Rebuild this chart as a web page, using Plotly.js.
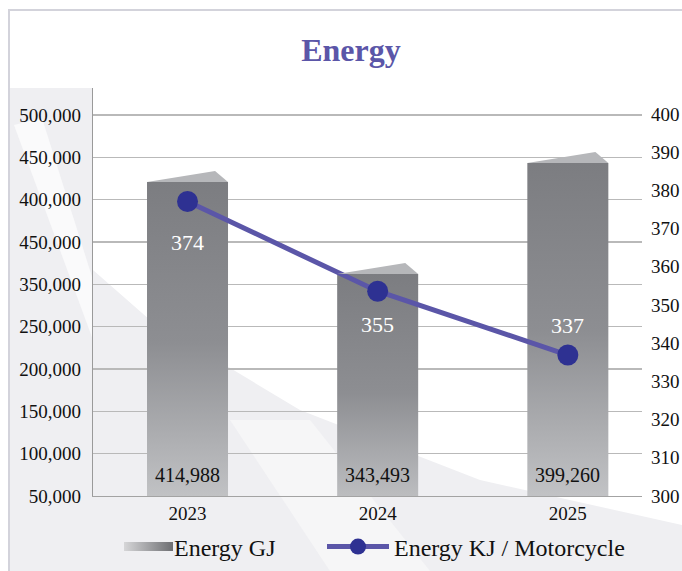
<!DOCTYPE html>
<html>
<head>
<meta charset="utf-8">
<script src="https://cdn.plot.ly/plotly-3.0.1.min.js"></script>
<style>
  html, body { margin: 0; padding: 0; background: #ffffff; }
  #chart { width: 682px; height: 571px; }
</style>
</head>
<body>
<div id="chart"></div>
<script>
// ---- data ----
const categories = ['2023', '2024', '2025'];
// bar heights as drawn against the left axis
const energyGJ = [420900, 312200, 443300];
// printed bar labels
const energyGJLabels = ['414,988', '343,493', '399,260'];
// line values as drawn against the right axis
const energyKJ = [377.1, 353.6, 336.9];
// printed line labels
const energyKJLabels = ['374', '355', '337'];
// left axis tick labels as printed
const leftTickVals = [50000, 100000, 150000, 200000, 250000, 300000, 350000, 400000, 450000, 500000];
const leftTickText = ['50,000', '100,000', '150,000', '200,000', '250,000', '350,000', '450,000', '400,000', '450,000', '500,000'];
const rightTickVals = [300, 310, 320, 330, 340, 350, 360, 370, 380, 390, 400];

// ---- style constants ----
const FONT = 'Liberation Serif, DejaVu Serif, serif';
const PURPLE = '#5b56a8';
const NAVY = '#2e3192';
const BAR_W = 0.426;
const CAP_RISE = 13000;
const CAP_APEX = 0.84;
const lineLabelShift = [-41, -33, 30];

const M = { l: 93, r: 40, t: 88, b: 75 };
const PW = 682 - M.l - M.r, PH = 571 - M.t - M.b;
const px = (x) => (x - M.l) / PW;
const py = (y) => (571 - M.b - y) / PH;
function poly(pts) {
  return 'M' + pts.map(p => px(p[0]).toFixed(4) + ',' + py(p[1]).toFixed(4)).join('L') + 'Z';
}

const shapes = [];
// background decoration
shapes.push({ type: 'path', xref: 'paper', yref: 'paper', layer: 'below', line: { width: 0 }, fillcolor: '#efeff2',
  path: poly([[10, 88], [10, 571], [682, 571], [682, 525], [480, 480], [300, 410], [150, 320], [93, 270], [93, 88]]) });
shapes.push({ type: 'path', xref: 'paper', yref: 'paper', layer: 'below', line: { width: 0 }, fillcolor: '#fafafb',
  path: poly([[14, 125], [93, 340], [93, 280], [42, 118]]) });
shapes.push({ type: 'path', xref: 'paper', yref: 'paper', layer: 'below', line: { width: 0 }, fillcolor: '#f6f6f7',
  path: poly([[230, 420], [330, 571], [430, 571], [310, 420]]) });
// frame
shapes.push({ type: 'path', xref: 'paper', yref: 'paper', layer: 'below', fillcolor: 'rgba(0,0,0,0)',
  line: { color: '#d3d3db', width: 2 }, path: 'M' + px(9) + ',' + py(571) + 'L' + px(9) + ',' + py(10) + 'L' + px(682) + ',' + py(10) });

// bar caps from data
categories.forEach((c, i) => {
  const x0 = i - BAR_W / 2, x1 = i + BAR_W / 2, xa = x0 + CAP_APEX * BAR_W;
  const v = energyGJ[i];
  shapes.push({ type: 'path', xref: 'x', yref: 'y', layer: 'above', line: { width: 0 }, fillcolor: '#b6b7ba',
    path: `M${x0},${v}L${xa},${v + CAP_RISE}L${x1},${v}Z` });
});

const annotations = [];
categories.forEach((c, i) => {
  annotations.push({ x: i, y: energyKJ[i], xref: 'x', yref: 'y2', text: energyKJLabels[i], showarrow: false,
    yshift: lineLabelShift[i], yanchor: 'middle', xanchor: 'center', font: { family: FONT, size: 22, color: '#ffffff' } });
  annotations.push({ x: i, y: leftTickVals[0], xref: 'x', yref: 'y', text: energyGJLabels[i], showarrow: false,
    yshift: 21, yanchor: 'middle', xanchor: 'center', font: { family: FONT, size: 20, color: '#111111' } });
});

const traces = [
  { type: 'bar', name: 'Energy GJ', x: categories, y: energyGJ, width: BAR_W, legend: 'legend',
    marker: { color: '#8e8f93', line: { width: 0 } }, hoverinfo: 'skip' },
  { type: 'scatter', mode: 'lines+markers', name: 'Energy KJ / Motorcycle', x: categories, y: energyKJ, yaxis: 'y2', legend: 'legend2',
    line: { color: PURPLE, width: 5 }, marker: { color: NAVY, size: 21 }, hoverinfo: 'skip' }
];

const legendBase = { orientation: 'h', xref: 'container', xanchor: 'left', yref: 'container', y: 1 - 547 / 571, yanchor: 'middle',
  itemwidth: 62, bgcolor: 'rgba(0,0,0,0)', font: { family: FONT, size: 24, color: '#111' } };

const layout = {
  width: 682, height: 571,
  margin: M,
  paper_bgcolor: '#ffffff', plot_bgcolor: 'rgba(0,0,0,0)',
  font: { family: FONT, size: 19, color: '#111111' },
  title: { text: 'Energy', xref: 'container', x: 351 / 682, xanchor: 'center', yref: 'container', y: 1 - 50 / 571, yanchor: 'middle',
    font: { family: FONT, size: 32, color: PURPLE, weight: 'bold' } },
  xaxis: { type: 'category', range: [-0.497, 2.39], showgrid: false, showline: true, linecolor: '#a3a3a3', linewidth: 1.3,
    ticks: '', tickfont: { family: FONT, size: 19, color: '#111' }, zeroline: false, fixedrange: true },
  yaxis: { range: [50000, 531950], tickvals: leftTickVals, ticktext: leftTickText, showgrid: true, gridcolor: '#b9b9b9', gridwidth: 1.5,
    showline: true, linecolor: '#9a9a9a', linewidth: 1.3, ticks: '', ticklabelstandoff: 7, zeroline: false,
    tickfont: { family: FONT, size: 19, color: '#111' }, fixedrange: true },
  yaxis2: { range: [300, 406.8], tickvals: rightTickVals, overlaying: 'y', side: 'right', showgrid: false, showline: false, ticks: '',
    ticklabelstandoff: 8, zeroline: false, tickfont: { family: FONT, size: 19, color: '#111' }, fixedrange: true },
  showlegend: true,
  legend: Object.assign({}, legendBase, { x: 102 / 682 }),
  legend2: Object.assign({}, legendBase, { x: 322 / 682 }),
  bargap: 0.5,
  shapes: shapes,
  annotations: annotations
};

function decorate(gd) {
  const ns = 'http://www.w3.org/2000/svg';
  const svg = gd.querySelector('.main-svg');
  if (!svg) return;
  let defs = svg.querySelector('defs');
  if (!defs) { defs = document.createElementNS(ns, 'defs'); svg.insertBefore(defs, svg.firstChild); }
  function grad(id, x2, y2, stops) {
    if (svg.querySelector('#' + id)) return;
    const lg = document.createElementNS(ns, 'linearGradient');
    lg.setAttribute('id', id);
    lg.setAttribute('x1', '0'); lg.setAttribute('y1', '0'); lg.setAttribute('x2', x2); lg.setAttribute('y2', y2);
    stops.forEach(s => {
      const st = document.createElementNS(ns, 'stop');
      st.setAttribute('offset', s[0]); st.setAttribute('stop-color', s[1]);
      lg.appendChild(st);
    });
    defs.appendChild(lg);
  }
  grad('barGrad', '0', '1', [['0', '#7c7d81'], ['0.45', '#8d8e92'], ['1', '#cfd0d2']]);
  grad('legGrad', '1', '0', [['0', '#d6d6d8'], ['1', '#6d6e72']]);
  gd.querySelectorAll('.barlayer .point path').forEach(p => { p.style.fill = 'url(#barGrad)'; });
  const legs = gd.querySelectorAll('.legend');
  legs.forEach(lg => {
    lg.querySelectorAll('.legendpoints path').forEach(p => {
      const cls = p.getAttribute('class') || '';
      if (cls.indexOf('bar') >= 0 || (p.getAttribute('d') || '').indexOf('H-6') >= 0) {
        p.setAttribute('transform', '');
        p.setAttribute('d', 'M22,4.5H71V-4.5H22Z');
        p.style.fill = 'url(#legGrad)';
        p.style.stroke = 'none';
      }
    });
  });
}

const gd = document.getElementById('chart');
Plotly.newPlot(gd, traces, layout, { displayModeBar: false, staticPlot: true }).then(() => {
  decorate(gd);
  setTimeout(() => decorate(gd), 0);
  gd.on('plotly_afterplot', () => decorate(gd));
});
</script>
</body>
</html>
